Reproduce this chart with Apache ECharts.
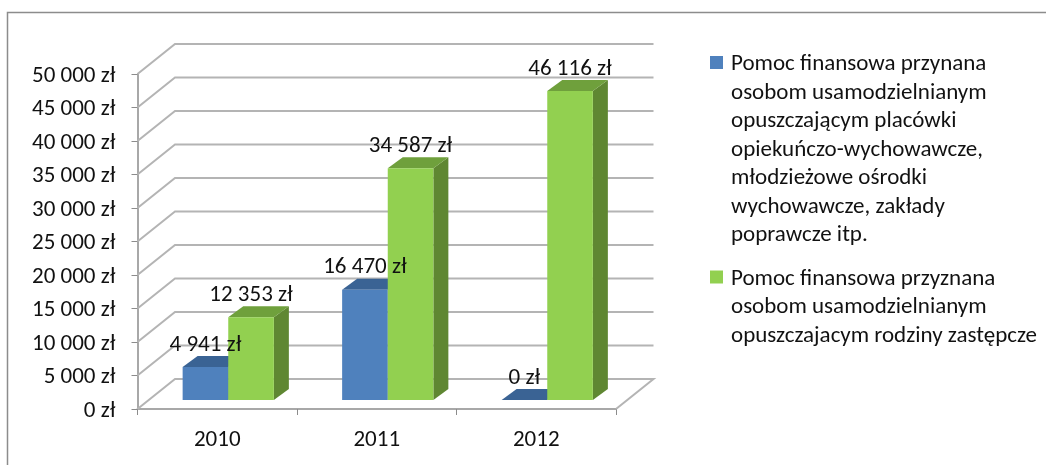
<!DOCTYPE html>
<html><head><meta charset="utf-8">
<style>html,body{margin:0;padding:0;background:#fff}#c{width:1046px;height:465px}</style>
<script src="https://cdn.jsdelivr.net/npm/echarts@6/dist/echarts.min.js"></script>
</head><body><div id="c"></div>
<script>
const categories = ['2010', '2011', '2012'];
const seriesAName = 'Pomoc finansowa przynana\nosobom usamodzielnianym\nopuszczającym placówki\nopiekuńczo-wychowawcze,\nmłodzieżowe ośrodki\nwychowawcze, zakłady\npoprawcze itp.';
const seriesBName = 'Pomoc finansowa przyznana\nosobom usamodzielnianym\nopuszczajacym rodziny zastępcze';
const seriesA = [4941, 16470, 0];
const seriesB = [12353, 34587, 46116];
const gridTicks = [0, 5000, 10000, 15000, 20000, 25000, 30000, 35000, 40000, 45000, 50000];

const FONT = 'Carlito, Lato, sans-serif';
const FS = 23;
const fmt = v => String(v).replace(/\B(?=(\d{3})+$)/g, ' ') + ' zł';
const WALL_DX = 37.5, WALL_DY = -30;
const BAR_X = 11, BAR_Y = -9, BAR_DX = 15, BAR_DY = -11;
const BAR_FRAC = 0.286, LABEL_UP = 22;
const GRID = '#b4b4b4';

function barRender(sign, front, top, side) {
  return function (params, api) {
    const base = api.coord([api.value(0), 0]);
    const tip = api.coord([api.value(0), api.value(1)]);
    const w = api.size([1, 0])[0] * BAR_FRAC;
    const x0 = base[0] + BAR_X + (sign < 0 ? -w : 0), x1 = x0 + w;
    const yb = base[1] + BAR_Y, yt = tip[1] + BAR_Y;
    const poly = (pts, fill) => ({type: 'polygon', shape: {points: pts}, style: {fill: fill}});
    return {type: 'group', children: [
      poly([[x1, yb], [x1 + BAR_DX, yb + BAR_DY], [x1 + BAR_DX, yt + BAR_DY], [x1, yt]], side),
      poly([[x0, yt], [x0 + BAR_DX, yt + BAR_DY], [x1 + BAR_DX, yt + BAR_DY], [x1, yt]], top),
      poly([[x0, yb], [x1, yb], [x1, yt], [x0, yt]], front),
      {type: 'text', z2: 100, style: {
        x: (x0 + x1) / 2, y: yt - LABEL_UP, text: fmt(api.value(1)),
        align: 'center', verticalAlign: 'middle', fill: '#111', font: FS + 'px ' + FONT}}
    ]};
  };
}
function wallRender(params, api) {
  const p = api.coord([0, api.value(1)]);
  const cs = params.coordSys;
  const x0 = cs.x, x1 = cs.x + cs.width, y = p[1];
  const pts = [[x0, y], [x0 + WALL_DX, y + WALL_DY], [x1 + WALL_DX, y + WALL_DY]];
  if (api.value(1) === 0) pts.push([x1, y]);
  return {type: 'polyline', shape: {points: pts}, style: {stroke: GRID, lineWidth: 2, fill: null}};
}
function legendIcon(h, off) {
  return 'path://M0 0L0 0M13 ' + h + 'L13 ' + h + 'M0 ' + off + 'H13V' + (off + 13) + 'H0Z';
}
const legendBase = {orient: 'vertical', padding: 0, itemWidth: 13, itemGap: 0, selectedMode: false,
  textStyle: {fontFamily: FONT, fontSize: FS, lineHeight: 28.5, color: '#111', padding: [0, 0, 0, 3]}};

const chart = echarts.init(document.getElementById('c'), null, {renderer: 'canvas'});
chart.setOption({
  animation: false,
  backgroundColor: '#fff',
  graphic: [{type: 'polyline', silent: true, shape: {points: [[7.5, 465], [7.5, 12.5], [1046, 12.5]]},
    style: {stroke: '#8c8c8c', lineWidth: 1.5, fill: null}}],
  legend: [
    Object.assign({}, legendBase, {left: 710, top: 50, itemHeight: 199.5,
      data: [{name: seriesAName, icon: legendIcon(199.5, 6)}]}),
    Object.assign({}, legendBase, {left: 710, top: 264.5, itemHeight: 85.5,
      data: [{name: seriesBName, icon: legendIcon(85.5, 6)}]})
  ],
  grid: {left: 137.5, right: 430, top: 74, bottom: 56},
  xAxis: {type: 'category', data: categories,
    axisLine: {lineStyle: {color: '#a8a8a8', width: 2}},
    axisTick: {show: true, alignWithLabel: false, length: 6, lineStyle: {color: '#8c8c8c', width: 1}},
    axisLabel: {fontFamily: FONT, fontSize: FS, color: '#111', margin: 20}},
  yAxis: {type: 'value', min: 0, max: 50000, interval: 5000,
    axisLine: {show: true, lineStyle: {color: '#a8a8a8', width: 2}},
    axisTick: {show: true, length: 6, lineStyle: {color: '#8c8c8c', width: 1}},
    splitLine: {show: false},
    axisLabel: {fontFamily: FONT, fontSize: FS, color: '#111', margin: 22, formatter: v => '{a|' + fmt(v) + '}',
      rich: {a: {fontFamily: FONT, fontSize: FS, color: '#111', padding: [4, 0, 0, 0]}}}},
  series: [
    {type: 'custom', name: 'walls', silent: true, z: 1, renderItem: wallRender,
      data: gridTicks.map(v => [0, v]), encode: {x: 0, y: 1}},
    {type: 'custom', name: seriesAName, z: 3, itemStyle: {color: '#4f81bd'},
      renderItem: barRender(-1, '#4f81bd', '#3a6394', '#3a6394'),
      data: seriesA.map((v, i) => [i, v]), encode: {x: 0, y: 1}},
    {type: 'custom', name: seriesBName, z: 3, itemStyle: {color: '#92d050'},
      renderItem: barRender(1, '#92d050', '#6fa03c', '#5f8732'),
      data: seriesB.map((v, i) => [i, v]), encode: {x: 0, y: 1}}
  ]
});
</script></body></html>
